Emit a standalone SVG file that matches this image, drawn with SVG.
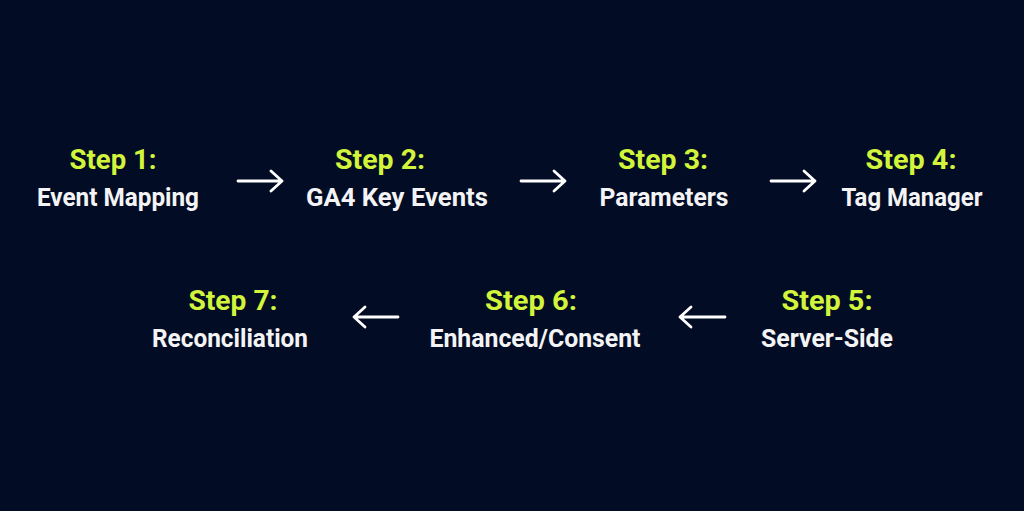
<svg xmlns="http://www.w3.org/2000/svg" width="1024" height="511" viewBox="0 0 1024 511">
<style>
.step{font-family:Roboto,"Liberation Sans",sans-serif;font-weight:700;font-size:28px;fill:#d2f53c;text-anchor:middle}
.lbl{font-family:Roboto,"Liberation Sans",sans-serif;font-weight:700;font-size:26.5px;fill:#f4f4f6;text-anchor:middle}
.arr{fill:none;stroke:#ffffff;stroke-width:2.8;stroke-linecap:round;stroke-linejoin:round}
</style>
<rect width="1024" height="511" fill="#020c24"/>
<g id="node1"><text class="step" x="113" y="169" textLength="87" lengthAdjust="spacingAndGlyphs">Step 1:</text><text class="lbl" x="118" y="206" textLength="162" lengthAdjust="spacingAndGlyphs">Event Mapping</text></g>
<g id="node2"><text class="step" x="380" y="169" textLength="90" lengthAdjust="spacingAndGlyphs">Step 2:</text><text class="lbl" x="397" y="206" textLength="182" lengthAdjust="spacingAndGlyphs">GA4 Key Events</text></g>
<g id="node3"><text class="step" x="663" y="169" textLength="90" lengthAdjust="spacingAndGlyphs">Step 3:</text><text class="lbl" x="664" y="206" textLength="129" lengthAdjust="spacingAndGlyphs">Parameters</text></g>
<g id="node4"><text class="step" x="911" y="169" textLength="91" lengthAdjust="spacingAndGlyphs">Step 4:</text><text class="lbl" x="912" y="206" textLength="141" lengthAdjust="spacingAndGlyphs">Tag Manager</text></g>
<g id="node5"><text class="step" x="827" y="310" textLength="91" lengthAdjust="spacingAndGlyphs">Step 5:</text><text class="lbl" x="827" y="347" textLength="132" lengthAdjust="spacingAndGlyphs">Server-Side</text></g>
<g id="node6"><text class="step" x="531" y="310" textLength="92" lengthAdjust="spacingAndGlyphs">Step 6:</text><text class="lbl" x="535" y="347" textLength="211" lengthAdjust="spacingAndGlyphs">Enhanced/Consent</text></g>
<g id="node7"><text class="step" x="233" y="310" textLength="89" lengthAdjust="spacingAndGlyphs">Step 7:</text><text class="lbl" x="230" y="347" textLength="156" lengthAdjust="spacingAndGlyphs">Reconciliation</text></g>
<g id="connectors">
<path class="arr" d="M238 181H282M271 171L282 181L271 191"/>
<path class="arr" d="M521 181H565M554 171L565 181L554 191"/>
<path class="arr" d="M771 181H815M804 171L815 181L804 191"/>
<path class="arr" d="M725 317H680M691 307L680 317L691 327"/>
<path class="arr" d="M398 317H354M365 307L354 317L365 327"/>
</g>
</svg>
